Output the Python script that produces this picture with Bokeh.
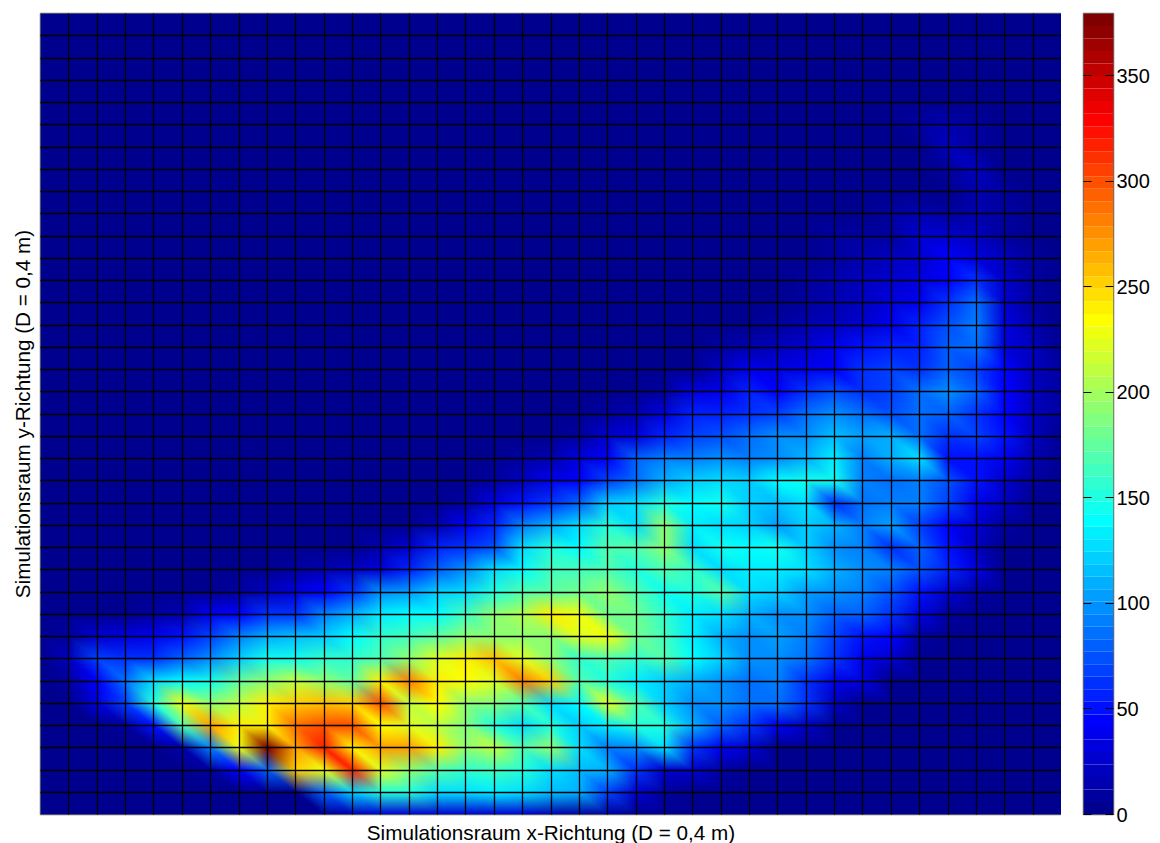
import numpy as np
from bokeh.embed import file_html
from bokeh.layouts import row
from bokeh.models import FixedTicker, LinearAxis, Range1d
from bokeh.plotting import figure
from bokeh.resources import INLINE

X_LABEL = "Simulationsraum x-Richtung (D = 0,4 m)"
Y_LABEL = "Simulationsraum y-Richtung (D = 0,4 m)"
COLORBAR_TICKS = [0, 50, 100, 150, 200, 250, 300, 350]
VALUE_MAX = 379.5
CELLS = 36
LEVELS = 64
FONT = "Liberation Sans"

# Values read at the mesh nodes: one row per horizontal grid line, from the bottom up.
j00 = [0]*10 + [5, 15, 25, 25, 25, 25, 25, 25, 15, 10, 8, 3] + [0]*15
j01 = [0]*9 + [5, 80, 120, 150, 150, 130, 130, 135, 125, 115, 110, 70, 25, 8, 3] + [0]*13
j02 = [0]*6 + [10, 45, 80, 250, 230, 320, 220, 190, 170, 160, 165, 150, 130, 115, 110, 60, 25, 25, 8] + [0]*12
j03 = [0]*4 + [5, 15, 90, 230, 380, 270, 320, 240, 270, 270, 240, 190, 210, 170, 190, 130, 90, 100, 130, 60, 40, 25, 5] + [0]*10
j04 = [0]*3 + [10, 50, 170, 270, 240, 240, 290, 300, 300, 235, 220, 210, 185, 150, 130, 150, 120, 135, 150, 150, 110, 80, 65, 40, 20, 3] + [0]*8
j05 = [0]*2 + [30, 70, 150, 230, 190, 210, 240, 250, 260, 250, 300, 210, 235, 190, 185, 170, 130, 140, 220, 170, 120, 100, 95, 85, 85, 60, 20, 3] + [0]*7
j06 = [0, 10, 45, 85, 130, 140, 145, 175, 195, 210, 190, 175, 240, 280, 240, 235, 220, 280, 250, 170, 150, 135, 120, 110, 100, 85, 90, 65, 40, 30, 3] + [0]*6
j07 = [0, 20, 70, 60, 60, 80, 95, 120, 145, 145, 155, 160, 170, 195, 220, 240, 260, 220, 190, 160, 170, 160, 170, 140, 120, 100, 95, 85, 60, 40, 25, 2] + [0]*5
j08 = [0, 8, 25, 30, 40, 50, 70, 90, 110, 115, 120, 140, 155, 165, 175, 190, 190, 195, 190, 220, 230, 180, 165, 135, 110, 100, 105, 90, 70, 50, 45, 10] + [0]*5
j09 = [0, 1, 3, 3, 10, 15, 40, 45, 60, 65, 90, 110, 135, 140, 140, 165, 190, 205, 240, 230, 180, 180, 155, 135, 130, 110, 100, 95, 80, 80, 60, 35, 10] + [0]*4
j10 = [0, 0, 1, 2, 2, 3, 5, 10, 20, 35, 45, 60, 95, 105, 120, 130, 150, 170, 175, 180, 190, 170, 145, 150, 170, 125, 120, 105, 100, 90, 75, 50, 25, 8, 0, 0, 0]
j11 = [0, 0, 1, 1, 1, 2, 2, 3, 5, 8, 12, 20, 35, 58, 80, 100, 125, 140, 165, 165, 170, 150, 170, 155, 125, 135, 135, 130, 110, 95, 90, 75, 55, 30, 5, 2, 0]
j12 = [0]*11 + [5, 15, 25, 55, 60, 75, 125, 150, 140, 170, 170, 190, 125, 145, 140, 145, 120, 100, 90, 60, 80, 50, 20, 3, 2, 0]
j13 = [0]*13 + [5, 15, 40, 55, 90, 110, 125, 150, 130, 190, 135, 130, 120, 105, 120, 110, 90, 105, 70, 45, 25, 8, 2, 0]
j14 = [0]*14 + [3, 10, 30, 50, 65, 80, 120, 125, 150, 140, 145, 120, 115, 125, 60, 85, 90, 90, 70, 40, 20, 3, 0]
j15 = [0]*15 + [3, 8, 20, 38, 45, 70, 85, 110, 120, 130, 120, 140, 145, 145, 90, 85, 90, 75, 50, 25, 10, 0]
j16 = [0]*16 + [3, 6, 15, 30, 45, 80, 90, 90, 95, 90, 95, 110, 135, 90, 110, 130, 50, 50, 40, 15, 3]
j17 = [0]*18 + [5, 10, 25, 35, 55, 70, 75, 85, 95, 100, 115, 105, 110, 85, 65, 70, 50, 20, 5]
j18 = [0]*19 + [3, 10, 15, 30, 55, 55, 65, 70, 85, 100, 85, 75, 85, 80, 65, 45, 20, 8]
j19 = [0]*21 + [3, 10, 30, 40, 55, 45, 65, 75, 60, 70, 85, 100, 80, 45, 20, 8]
j20 = [0]*22 + [3, 5, 20, 40, 35, 40, 45, 65, 70, 65, 80, 70, 45, 18, 8]
j21 = [0]*23 + [3, 8, 12, 18, 28, 38, 48, 55, 55, 80, 85, 35, 18, 5]
j22 = [0]*25 + [3, 8, 12, 20, 28, 40, 55, 75, 90, 30, 12, 3]
j23 = [0]*26 + [5, 10, 15, 22, 30, 40, 60, 85, 25, 10, 2]
j24 = [0]*26 + [4, 8, 12, 18, 28, 35, 45, 60, 25, 10, 4]
j25 = [0]*27 + [5, 8, 12, 18, 28, 45, 35, 20, 10, 4]
j26 = [0]*27 + [5, 6, 8, 10, 25, 28, 18, 10, 5, 3]
j27 = [0]*30 + [8, 12, 8, 12, 8, 5, 2]
j28 = [0]*31 + [5, 5, 15, 6, 3, 2]
j29 = [0]*31 + [3, 8, 18, 5, 2, 1]
j30 = [0]*31 + [5, 20, 10, 5, 2, 1]
j31 = [0]*31 + [10, 14, 6, 3, 2, 1]
j32 = [0]*37
j33 = [0]*37
j34 = [0]*37
j35 = [0]*37
j36 = [0]*37

nodes = np.array([j00, j01, j02, j03, j04, j05, j06, j07, j08, j09, j10, j11, j12,
                  j13, j14, j15, j16, j17, j18, j19, j20, j21, j22, j23, j24, j25,
                  j26, j27, j28, j29, j30, j31, j32, j33, j34, j35, j36], dtype=float)


def jet(n):
    x = (np.arange(n) + 1) / n
    r = np.minimum(4 * x - 1.5, -4 * x + 4.5)
    g = np.minimum(4 * x - 0.5, -4 * x + 3.5)
    b = np.minimum(4 * x + 0.5, -4 * x + 2.5)
    return np.clip(np.stack([r, g, b], axis=1), 0, 1) * 255


def shade_rgba(values, width, height):
    # Each mesh node takes its colour from the colour map; each cell is then two
    # triangles split along its top-left to bottom-right diagonal, with the colour
    # channels blended across them, as the renderer of the original does.
    lut = jet(LEVELS)
    index = np.clip((values / VALUE_MAX * LEVELS).astype(int), 0, LEVELS - 1)
    rgb = lut[index]
    u = (np.arange(width) + 0.5) / width * CELLS
    v = (np.arange(height) + 0.5) / height * CELLS
    uu, vv = np.meshgrid(u, v)
    k = np.minimum(uu.astype(int), CELLS - 1)
    j = np.minimum(vv.astype(int), CELLS - 1)
    fu, fv = (uu - k)[..., None], (vv - j)[..., None]
    bl, br = rgb[j, k], rgb[j, k + 1]
    tl, tr = rgb[j + 1, k], rgb[j + 1, k + 1]
    lower = bl + fu * (br - bl) + fv * (tl - bl)
    upper = tr + (1 - fu) * (tl - tr) + (1 - fv) * (br - tr)
    c = np.round(np.where(fu + fv >= 1, upper, lower)).astype(np.uint32)
    return c[..., 0] | (c[..., 1] << 8) | (c[..., 2] << 16) | (np.uint32(255) << 24)


palette = ["#%02x%02x%02x" % tuple(int(round(c)) for c in col) for col in jet(LEVELS)]

p = figure(frame_width=1021, frame_height=801, min_border_left=40, min_border_right=0,
           min_border_top=13, min_border_bottom=29, x_range=Range1d(0, CELLS), y_range=Range1d(0, CELLS),
           toolbar_location=None, output_backend="svg", background_fill_color="white")
p.image_rgba(image=[shade_rgba(nodes, 1021, 801)], x=0, y=0, dw=CELLS, dh=CELLS)

for axis, label, standoff in ((p.xaxis[0], X_LABEL, 6), (p.yaxis[0], Y_LABEL, 7)):
    axis.ticker = FixedTicker(ticks=[])
    axis.axis_line_color = None
    axis.major_tick_line_color = None
    axis.minor_tick_line_color = None
    axis.axis_label = label
    axis.axis_label_text_font = FONT
    axis.axis_label_text_font_style = "normal"
    axis.axis_label_text_font_size = "20.7px"
    axis.axis_label_text_color = "#000000"
    axis.axis_label_standoff = standoff

for grid in (p.xgrid[0], p.ygrid[0]):
    grid.ticker = FixedTicker(ticks=list(range(1, CELLS)))
    grid.grid_line_color = "#000000"
    grid.grid_line_width = 1.3
    grid.level = "annotation"
p.outline_line_color = "#6a6a6a"
p.outline_line_width = 1.5

edges = [VALUE_MAX * i / len(palette) for i in range(len(palette) + 1)]
cb = figure(frame_width=30, frame_height=801, min_border_left=22, min_border_right=2,
            min_border_top=13, min_border_bottom=29, x_range=Range1d(0, 1), y_range=Range1d(0, VALUE_MAX),
            toolbar_location=None, output_backend="svg", x_axis_location=None, y_axis_location=None)
cb.quad(left=0, right=1, bottom=edges[:-1], top=edges[1:], fill_color=palette, line_color=None)
cb.xgrid.visible = False
cb.ygrid.visible = False
cb.outline_line_color = "#6a6a6a"
cb.outline_line_width = 1.5

right_axis = LinearAxis(ticker=FixedTicker(ticks=COLORBAR_TICKS))
right_axis.major_label_text_font = FONT
right_axis.major_label_text_font_size = "20px"
right_axis.major_label_text_color = "#000000"
right_axis.major_label_standoff = 3
right_axis.major_tick_in = 8
right_axis.major_tick_out = 0
right_axis.major_tick_line_color = "#000000"
right_axis.minor_tick_line_color = None
right_axis.axis_line_color = None
cb.add_layout(right_axis, "right")

left_axis = LinearAxis(ticker=FixedTicker(ticks=COLORBAR_TICKS))
left_axis.major_label_text_color = None
left_axis.major_label_text_font_size = "1px"
left_axis.major_tick_in = 8
left_axis.major_tick_out = 0
left_axis.major_tick_line_color = "#000000"
left_axis.minor_tick_line_color = None
left_axis.axis_line_color = None
cb.add_layout(left_axis, "left")

open("out.html", "w").write(file_html(row(p, cb), INLINE))
